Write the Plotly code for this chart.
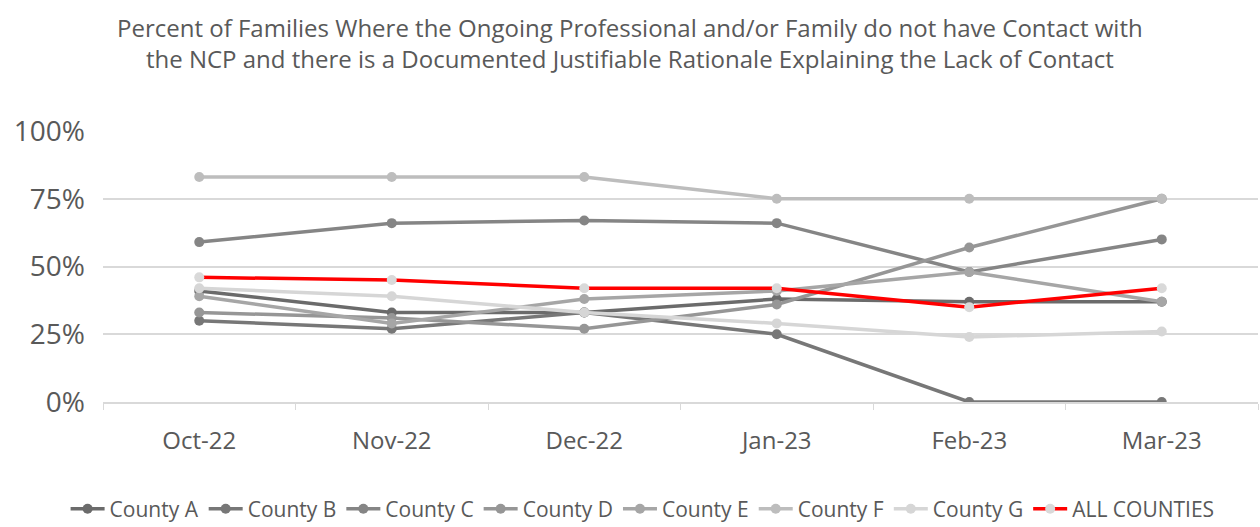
import plotly.graph_objects as go

months = ["Oct-22", "Nov-22", "Dec-22", "Jan-23", "Feb-23", "Mar-23"]

county_a = [0.41, 0.33, 0.33, 0.38, 0.37, 0.37]
county_b = [0.30, 0.27, 0.33, 0.25, 0.00, 0.00]
county_c = [0.59, 0.66, 0.67, 0.66, 0.48, 0.60]
county_d = [0.33, 0.31, 0.27, 0.36, 0.57, 0.75]
county_e = [0.39, 0.29, 0.38, 0.41, 0.48, 0.37]
county_f = [0.83, 0.83, 0.83, 0.75, 0.75, 0.75]
county_g = [0.42, 0.39, 0.33, 0.29, 0.24, 0.26]
all_counties = [0.46, 0.45, 0.42, 0.42, 0.35, 0.42]

series = [
    ("County A", county_a, "#6b6b6b", "#6b6b6b"),
    ("County B", county_b, "#777777", "#777777"),
    ("County C", county_c, "#858585", "#858585"),
    ("County D", county_d, "#969696", "#969696"),
    ("County E", county_e, "#a6a6a6", "#a6a6a6"),
    ("County F", county_f, "#bdbdbd", "#bdbdbd"),
    ("County G", county_g, "#d6d6d6", "#d6d6d6"),
    ("ALL COUNTIES", all_counties, "#ff0000", "#d9d9d9"),
]

fig = go.Figure()
for name, vals, line_col, mark_col in series:
    fig.add_trace(go.Scatter(
        x=months, y=vals, name=name, mode="lines+markers",
        line=dict(color=line_col, width=3.5),
        marker=dict(color=mark_col, size=10),
    ))

font_family = "Open Sans, Liberation Sans, sans-serif"
title_text = ("Percent of Families Where the Ongoing Professional and/or Family do not have Contact with<br>"
              "the NCP and there is a Documented Justifiable Rationale Explaining the Lack of Contact")

fig.update_layout(
    width=1260, height=527,
    margin=dict(l=103, r=2, t=131, b=125),
    paper_bgcolor="white", plot_bgcolor="white",
    font=dict(family=font_family, color="#595959", size=20),
    showlegend=True,
    legend=dict(
        orientation="h", yref="container", xref="container", x=0.51, xanchor="center",
        y=0.034, yanchor="middle",
        font=dict(size=21, color="#595959", family=font_family),
        itemwidth=34, tracegroupgap=0, bgcolor="rgba(0,0,0,0)",
    ),
    annotations=[dict(
        text=title_text, xref="paper", yref="paper",
        x=(630 - 103) / 1155, y=1 + (131 - 43) / 271,
        xanchor="center", yanchor="middle", showarrow=False,
        font=dict(size=24, color="#595959", family=font_family),
        align="center",
    )],
)
fig.update_xaxes(
    type="category", showgrid=False, showline=True, linecolor="#d9d9d9", linewidth=1.5,
    ticks="outside", tickson="boundaries", ticklen=6, tickcolor="#d9d9d9",
    ticklabelstandoff=16, tickfont=dict(size=24, color="#595959"),
    range=[-0.5, 5.5],
)
fig.update_yaxes(
    range=[0, 1.0], tickvals=[0, 0.25, 0.5, 0.75, 1.0], tickformat=".0%",
    showgrid=True, gridcolor="#d9d9d9", gridwidth=1.5, zeroline=False,
    ticklabelstandoff=17, tickfont=dict(size=28, color="#595959"),
)

fig.write_html("out.html")
